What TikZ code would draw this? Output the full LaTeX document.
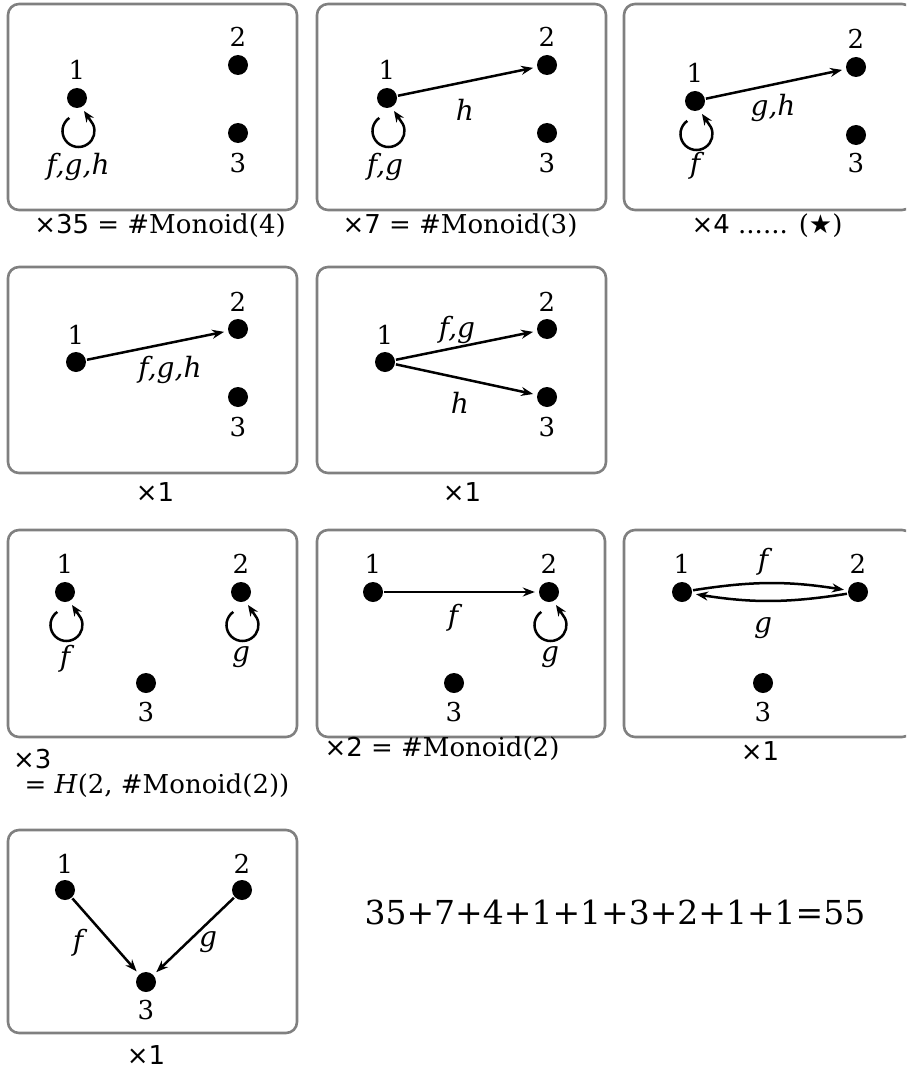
\documentclass[tikz,border=0pt]{standalone}
\usepackage{fontspec}
\setmainfont{DejaVu Serif}
\newfontfamily\dsans{DejaVu Sans}
\usetikzlibrary{arrows.meta}
\tikzset{
  panel/.style={draw=black!50, line width=2.6pt, rounded corners=11pt},
  dot/.style={circle, fill=black, minimum size=20pt, inner sep=0pt},
  lbl/.style={font=\fontsize{26}{30}\selectfont, inner sep=0pt},
  ilbl/.style={font=\fontsize{28}{32}\selectfont\itshape, inner sep=0pt},
  arr/.style={-{Stealth[length=12pt,width=9pt]}, line width=2.5pt, shorten >=4pt, shorten <=1pt},
  selfloop/.style={-{Stealth[length=11pt,width=9pt]}, line width=2.5pt},
}
\newcommand{\myloop}[1]{\draw[selfloop] ([shift={(-7.7,-19.9)}]#1.center) arc[start angle=125,end angle=385,radius=16] -- ([shift={(7,-13)}]#1.center);}
\begin{document}
\begin{tikzpicture}[x=1pt,y=1pt]
\clip (0,0) rectangle (906,-1070);
% ---------- Row 1 ----------
\draw[panel] (8,-4) rectangle (297,-210);
\node[dot] (a1) at (77,-98) {};
\node[dot] (a2) at (238,-65) {};
\node[dot] (a3) at (238,-133) {};
\node[lbl] (a1l) at (77,-70) {1};
\node[lbl] (a2l) at (238,-37) {2};
\node[lbl] (a3l) at (238,-163) {3};
\myloop{a1}
\node[ilbl] (a1f) at (78,-167) {f,g,h};
\node[lbl] (acap) at (160,-226) {{\dsans ×35} = \#Monoid(4)};

\draw[panel] (317,-4) rectangle (606,-210);
\node[dot] (b1) at (387,-98) {};
\node[dot] (b2) at (547,-65) {};
\node[dot] (b3) at (547,-133) {};
\node[lbl] (b1l) at (387,-70) {1};
\node[lbl] (b2l) at (547,-37) {2};
\node[lbl] (b3l) at (547,-163) {3};
\myloop{b1}
\draw[arr] (b1) -- (b2);
\node[ilbl] (bh) at (465,-110) {h};
\node[ilbl] (bfg) at (385,-167) {f,g};
\node[lbl] (bcap) at (460,-226) {{\dsans ×7} = \#Monoid(3)};

\draw[panel] (624,-4) rectangle (913,-210);
\node[dot] (c1) at (695,-101) {};
\node[dot] (c2) at (856,-67) {};
\node[dot] (c3) at (856,-135) {};
\node[lbl] (c1l) at (695,-73) {1};
\node[lbl] (c2l) at (856,-39) {2};
\node[lbl] (c3l) at (856,-163) {3};
\myloop{c1}
\draw[arr] (c1) -- (c2);
\node[ilbl] (cgh) at (773,-108) {g,h};
\node[ilbl] (cf) at (695,-166) {f};
\node[lbl] (ccap) at (767,-226) {{\dsans ×4} ...... ({\dsans ★})};
% ---------- Row 2 ----------
\draw[panel] (8,-267) rectangle (297,-473);
\node[dot] (d1) at (76,-362) {};
\node[dot] (d2) at (238,-329) {};
\node[dot] (d3) at (238,-397) {};
\node[lbl] (d1l) at (76,-335) {1};
\node[lbl] (d2l) at (238,-302) {2};
\node[lbl] (d3l) at (238,-427) {3};
\draw[arr] (d1) -- (d2);
\node[ilbl] (dfgh) at (170,-370) {f,g,h};
\node[lbl] (dcap) at (155,-492) {\dsans ×1};

\draw[panel] (317,-267) rectangle (606,-473);
\node[dot] (e1) at (385,-362) {};
\node[dot] (e2) at (547,-329) {};
\node[dot] (e3) at (547,-397) {};
\node[lbl] (e1l) at (385,-335) {1};
\node[lbl] (e2l) at (547,-302) {2};
\node[lbl] (e3l) at (547,-427) {3};
\draw[arr] (e1) -- (e2);
\draw[arr] (e1) -- (e3);
\node[ilbl] (efg) at (457,-330) {f,g};
\node[ilbl] (eh) at (460,-403) {h};
\node[lbl] (ecap) at (462,-492) {\dsans ×1};
% ---------- Row 3 ----------
\draw[panel] (8,-530) rectangle (297,-737);
\node[dot] (g1) at (65,-592) {};
\node[dot] (g2) at (241,-592) {};
\node[dot] (g3) at (146,-683) {};
\node[lbl] (g1l) at (65,-564) {1};
\node[lbl] (g2l) at (241,-564) {2};
\node[lbl] (g3l) at (146,-712) {3};
\myloop{g1}
\myloop{g2}
\node[ilbl] (gf) at (65,-659) {f};
\node[ilbl] (gg) at (241,-657) {g};
\node[lbl, anchor=west] (gcap) at (13,-759) {\dsans ×3};
\node[lbl] (gcap2) at (157,-786) {= \textit{H}(2, \#Monoid(2))};

\draw[panel] (317,-530) rectangle (605,-737);
\node[dot] (h1) at (373,-592) {};
\node[dot] (h2) at (549,-592) {};
\node[dot] (h3) at (454,-683) {};
\node[lbl] (h1l) at (373,-564) {1};
\node[lbl] (h2l) at (549,-564) {2};
\node[lbl] (h3l) at (454,-712) {3};
\draw[arr] (h1) -- (h2);
\myloop{h2}
\node[ilbl] (hf) at (453,-618) {f};
\node[ilbl] (hg) at (550,-657) {g};
\node[lbl] (hcap) at (442,-749) {{\dsans ×2} = \#Monoid(2)};

\draw[panel] (624,-530) rectangle (913,-737);
\node[dot] (k1) at (682,-592) {};
\node[dot] (k2) at (858,-592) {};
\node[dot] (k3) at (763,-683) {};
\node[lbl] (k1l) at (682,-564) {1};
\node[lbl] (k2l) at (858,-564) {2};
\node[lbl] (k3l) at (763,-712) {3};
\draw[arr] (k1) to[bend left=9] (k2);
\draw[arr] (k2) to[bend left=9] (k1);
\node[ilbl] (kf) at (763,-562) {f};
\node[ilbl] (kg) at (763,-628) {g};
\node[lbl] (kcap) at (760,-751) {\dsans ×1};
% ---------- Row 4 ----------
\draw[panel] (8,-830) rectangle (297,-1033);
\node[dot] (m1) at (65,-890) {};
\node[dot] (m2) at (242,-890) {};
\node[dot] (m3) at (146,-982) {};
\node[lbl] (m1l) at (65,-864) {1};
\node[lbl] (m2l) at (242,-864) {2};
\node[lbl] (m3l) at (146,-1010) {3};
\draw[arr] (m1) -- (m3);
\draw[arr] (m2) -- (m3);
\node[ilbl] (mf) at (78,-943) {f};
\node[ilbl] (mg) at (208,-942) {g};
\node[lbl] (mcap) at (146,-1055) {\dsans ×1};

\node[font=\fontsize{33}{38}\selectfont, inner sep=0pt] (sum) at (615,-912) {35+7+4+1+1+3+2+1+1=55};
\end{tikzpicture}
\end{document}
